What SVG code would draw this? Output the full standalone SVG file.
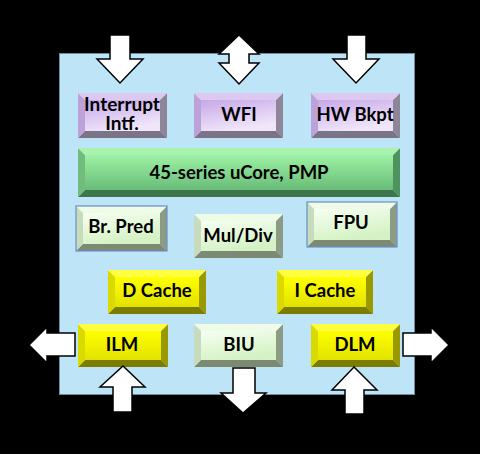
<svg xmlns="http://www.w3.org/2000/svg" width="480" height="454" viewBox="0 0 480 454">
<style>
text{font-family:"Lato","Open Sans","Liberation Sans",sans-serif;font-weight:bold;font-size:18.5px;fill:#000;text-anchor:middle}
.big{font-size:19px}
.arrow{fill:#fff;stroke:#000;stroke-width:1.5;stroke-linejoin:miter}
.pT{fill:#dcc8f0}.pL{fill:#bca2d8}.pR{fill:#8e8698}.pB{fill:#7a7486}.pF{fill:url(#gp)}
.gT{fill:#a8f4ae}.gL{fill:#6fbc7c}.gR{fill:#4e9260}.gB{fill:#3c764a}.gF{fill:url(#gg)}
.lT{fill:#eefbe6}.lL{fill:#c6dcbc}.lR{fill:#8c9c84}.lB{fill:#7c8a74}.lF{fill:url(#gl)}
.yT{fill:#ffff40}.yL{fill:#dada00}.yR{fill:#9a9a00}.yB{fill:#7c7c00}.yF{fill:url(#gy)}
.ol{fill:none;stroke:#6b8fc6;stroke-width:1.2}
</style>
<defs>
<linearGradient id="gp" x1="0" y1="0" x2="0.4" y2="1"><stop offset="0" stop-color="#c7a8e8"/><stop offset="1" stop-color="#f0e6fa"/></linearGradient>
<linearGradient id="gg" x1="0" y1="0" x2="0" y2="1"><stop offset="0" stop-color="#9ef2a4"/><stop offset="1" stop-color="#68bc78"/></linearGradient>
<linearGradient id="gl" x1="0" y1="0" x2="0.4" y2="1"><stop offset="0" stop-color="#f6fff2"/><stop offset="1" stop-color="#d4f2c4"/></linearGradient>
<linearGradient id="gy" x1="0" y1="0" x2="0" y2="1"><stop offset="0" stop-color="#ffff00"/><stop offset="1" stop-color="#e2e200"/></linearGradient>
</defs>
<rect x="0" y="0" width="480" height="454" fill="#000"/>
<rect id="chip" x="59.5" y="53.5" width="355" height="341" fill="#bee4f8" stroke="#6e8c9c" stroke-width="1"/>

<g id="n-interrupt">
<polygon class="pR" points="167,93 167,138 160,131 160,100"/>
<polygon class="pB" points="78,138 85,131 160,131 167,138"/>
<polygon class="pL" points="78,93 85,100 85,131 78,138"/>
<polygon class="pT" points="78,93 167,93 160,100 85,100"/>
<rect class="pF" x="85" y="100" width="75" height="31"/>
<text class="big" x="122" y="111">Interrupt</text>
<text class="big" x="122" y="130">Intf.</text>
</g>
<g id="n-wfi">
<polygon class="pR" points="283,93 283,138 276,131 276,100"/>
<polygon class="pB" points="194,138 201,131 276,131 283,138"/>
<polygon class="pL" points="194,93 201,100 201,131 194,138"/>
<polygon class="pT" points="194,93 283,93 276,100 201,100"/>
<rect class="pF" x="201" y="100" width="75" height="31"/>
<text x="239" y="121">WFI</text>
</g>
<g id="n-hwbkpt">
<polygon class="pR" points="400,93 400,138 393,131 393,100"/>
<polygon class="pB" points="311,138 318,131 393,131 400,138"/>
<polygon class="pL" points="311,93 318,100 318,131 311,138"/>
<polygon class="pT" points="311,93 400,93 393,100 318,100"/>
<rect class="pF" x="318" y="100" width="75" height="31"/>
<text x="355" y="121">HW Bkpt</text>
</g>
<g id="n-core">
<polygon class="gR" points="400,148 400,197 393,190 393,155"/>
<polygon class="gB" points="78,197 85,190 393,190 400,197"/>
<polygon class="gL" points="78,148 85,155 85,190 78,197"/>
<polygon class="gT" points="78,148 400,148 393,155 85,155"/>
<rect class="gF" x="85" y="155" width="308" height="35"/>
<text x="239" y="179">45-series uCore, PMP</text>
</g>
<g id="n-brpred">
<polygon class="lR" points="167,206 167,251 160,244 160,213"/>
<polygon class="lB" points="76,251 83,244 160,244 167,251"/>
<polygon class="lL" points="76,206 83,213 83,244 76,251"/>
<polygon class="lT" points="76,206 167,206 160,213 83,213"/>
<rect class="lF" x="83" y="213" width="77" height="31"/>
<rect class="ol" x="76" y="206" width="91" height="45"/>
<text x="121" y="233">Br. Pred</text>
</g>
<g id="n-muldiv">
<polygon class="lR" points="283,214 283,258 276,251 276,221"/>
<polygon class="lB" points="194,258 201,251 276,251 283,258"/>
<polygon class="lL" points="194,214 201,221 201,251 194,258"/>
<polygon class="lT" points="194,214 283,214 276,221 201,221"/>
<rect class="lF" x="201" y="221" width="75" height="30"/>
<text x="238" y="242">Mul/Div</text>
</g>
<g id="n-fpu">
<polygon class="lR" points="397,202 397,247 390,240 390,209"/>
<polygon class="lB" points="307,247 314,240 390,240 397,247"/>
<polygon class="lL" points="307,202 314,209 314,240 307,247"/>
<polygon class="lT" points="307,202 397,202 390,209 314,209"/>
<rect class="lF" x="314" y="209" width="76" height="31"/>
<rect class="ol" x="307" y="202" width="90" height="45"/>
<text x="351" y="229">FPU</text>
</g>
<g id="n-dcache">
<polygon class="yR" points="206,270 206,314 199,307 199,277"/>
<polygon class="yB" points="108,314 115,307 199,307 206,314"/>
<polygon class="yL" points="108,270 115,277 115,307 108,314"/>
<polygon class="yT" points="108,270 206,270 199,277 115,277"/>
<rect class="yF" x="115" y="277" width="84" height="30"/>
<text x="157" y="297">D Cache</text>
</g>
<g id="n-icache">
<polygon class="yR" points="373,270 373,314 366,307 366,277"/>
<polygon class="yB" points="277,314 284,307 366,307 373,314"/>
<polygon class="yL" points="277,270 284,277 284,307 277,314"/>
<polygon class="yT" points="277,270 373,270 366,277 284,277"/>
<rect class="yF" x="284" y="277" width="82" height="30"/>
<text x="325" y="297">I Cache</text>
</g>
<g id="n-ilm">
<polygon class="yR" points="168,324 168,367 161,360 161,331"/>
<polygon class="yB" points="78,367 85,360 161,360 168,367"/>
<polygon class="yL" points="78,324 85,331 85,360 78,367"/>
<polygon class="yT" points="78,324 168,324 161,331 85,331"/>
<rect class="yF" x="85" y="331" width="76" height="29"/>
<text x="122" y="351">ILM</text>
</g>
<g id="n-biu">
<polygon class="lR" points="283,324 283,367 276,360 276,331"/>
<polygon class="lB" points="194,367 201,360 276,360 283,367"/>
<polygon class="lL" points="194,324 201,331 201,360 194,367"/>
<polygon class="lT" points="194,324 283,324 276,331 201,331"/>
<rect class="lF" x="201" y="331" width="75" height="29"/>
<text x="239" y="351">BIU</text>
</g>
<g id="n-dlm">
<polygon class="yR" points="400,324 400,367 393,360 393,331"/>
<polygon class="yB" points="311,367 318,360 393,360 400,367"/>
<polygon class="yL" points="311,324 318,331 318,360 311,367"/>
<polygon class="yT" points="311,324 400,324 393,331 318,331"/>
<rect class="yF" x="318" y="331" width="75" height="29"/>
<text x="355" y="351">DLM</text>
</g>

<g id="connectors">
<polygon class="arrow" points="110,35 130,35 130,59 143,59 120,83 97,59 110,59"/>
<polygon class="arrow" points="239,35 259,54 249,54 249,63 259,63 239,84 219,63 229,63 229,54 219,54"/>
<polygon class="arrow" points="347,35 366,35 366,59 379,59 356,83 333,59 347,59"/>
<polygon class="arrow" points="29,345 47,327 47,333 75,333 75,356 47,356 47,363"/>
<polygon class="arrow" points="403,333 431,333 431,327 449,345 431,363 431,356 403,356"/>
<polygon class="arrow" points="123,366 145,387 132,387 132,412 113,412 113,387 100,387"/>
<polygon class="arrow" points="233,368 255,368 255,393 266,393 243,413 221,393 233,393"/>
<polygon class="arrow" points="354,367 377,390 364,390 364,414 345,414 345,390 332,390"/>
</g>
</svg>
